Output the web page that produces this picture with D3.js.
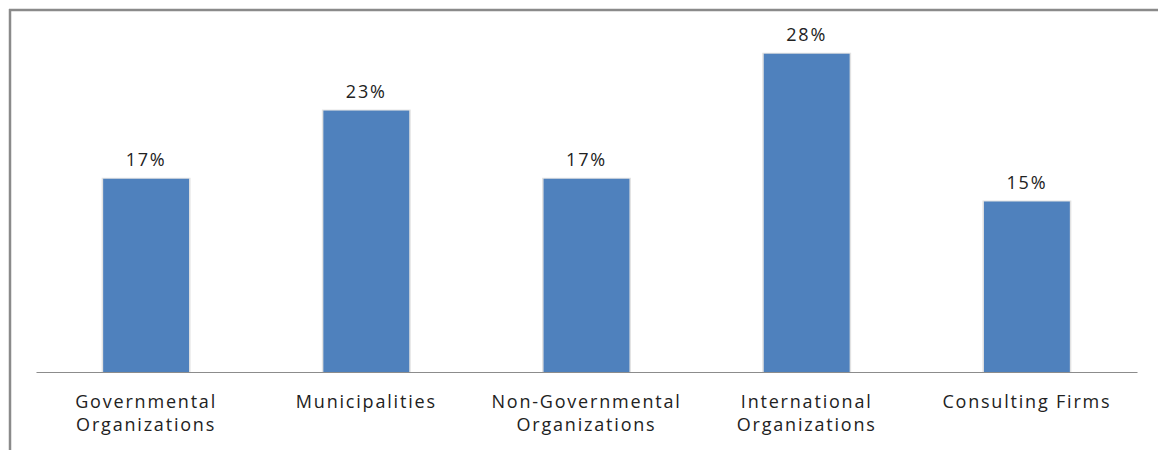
<!DOCTYPE html>
<html>
<head>
<meta charset="utf-8">
<script src="https://cdn.jsdelivr.net/npm/d3@7"></script>
<style>
  body { margin: 0; background: #fff; }
  text { font-family: "Open Sans", "Noto Sans", sans-serif; fill: #222; }
</style>
</head>
<body>
<div id="chart"></div>
<script>
// data
var categories = ["Governmental Organizations", "Municipalities", "Non-Governmental Organizations", "International Organizations", "Consulting Firms"];
var labelLines = [["Governmental", "Organizations"], ["Municipalities"], ["Non-Governmental", "Organizations"], ["International", "Organizations"], ["Consulting Firms"]];
var values = [17, 23, 17, 28, 15];

var W = 1158, H = 450;
var margin = {top: 31, left: 36, right: 21, bottom: 78};

var svg = d3.select("#chart")
  .append("svg")
    .attr("width", W)
    .attr("height", H);

// frame lines (top and left only)
svg.append("line").attr("x1", 9).attr("x2", W).attr("y1", 10).attr("y2", 10)
  .attr("stroke", "#8a8a8a").attr("stroke-width", 2.5);
svg.append("line").attr("x1", 10).attr("x2", 10).attr("y1", 9).attr("y2", H)
  .attr("stroke", "#8a8a8a").attr("stroke-width", 2.5);

var x = d3.scaleBand()
    .domain(categories)
    .range([margin.left, W - margin.right])
    .paddingInner(0.61)
    .paddingOuter(0.305);

var y = d3.scaleLinear()
    .domain([0, 30])
    .range([H - margin.bottom, margin.top]);

// bars with a faint light edge
var g = svg.append("g");
g.selectAll("rect.shadow")
  .data(values)
  .enter()
  .append("rect")
    .attr("x", function(d, i) { return x(categories[i]) - 1.5; })
    .attr("y", function(d) { return y(d) - 1; })
    .attr("width", x.bandwidth() + 3)
    .attr("height", function(d) { return y(0) - y(d) + 1; })
    .style("fill", "#e2e2e2");
g.selectAll("rect.bar")
  .data(values)
  .enter()
  .append("rect")
    .attr("x", function(d, i) { return x(categories[i]); })
    .attr("y", function(d) { return y(d); })
    .attr("width", x.bandwidth())
    .attr("height", function(d) { return y(0) - y(d); })
    .style("fill", "#4f81bd");

// x axis line
var axis = svg.append("g")
    .attr("transform", "translate(0," + y(0) + ")")
    .call(d3.axisBottom(x).tickSize(0).tickFormat(""));
axis.select(".domain").attr("stroke", "#8c8c8c").attr("stroke-width", 1.2);

// category labels
axis.selectAll(".tick").each(function(d, i) {
  var t = d3.select(this).append("text")
      .attr("text-anchor", "middle")
      .style("font-size", "18px")
      .style("letter-spacing", "1.8px")
      .style("fill", "#222");
  labelLines[i].forEach(function(s, j) {
    t.append("tspan").attr("x", 0).attr("y", 36 + j * 23).text(s);
  });
});

// value labels
svg.selectAll("text.val")
  .data(values)
  .enter()
  .append("text")
    .attr("class", "val")
    .attr("x", function(d, i) { return x(categories[i]) + x.bandwidth() / 2; })
    .attr("y", function(d) { return y(d) - 13; })
    .attr("text-anchor", "middle")
    .style("font-size", "18px")
    .style("letter-spacing", "1.8px")
    .text(function(d) { return d + "%"; });
</script>
</body>
</html>
